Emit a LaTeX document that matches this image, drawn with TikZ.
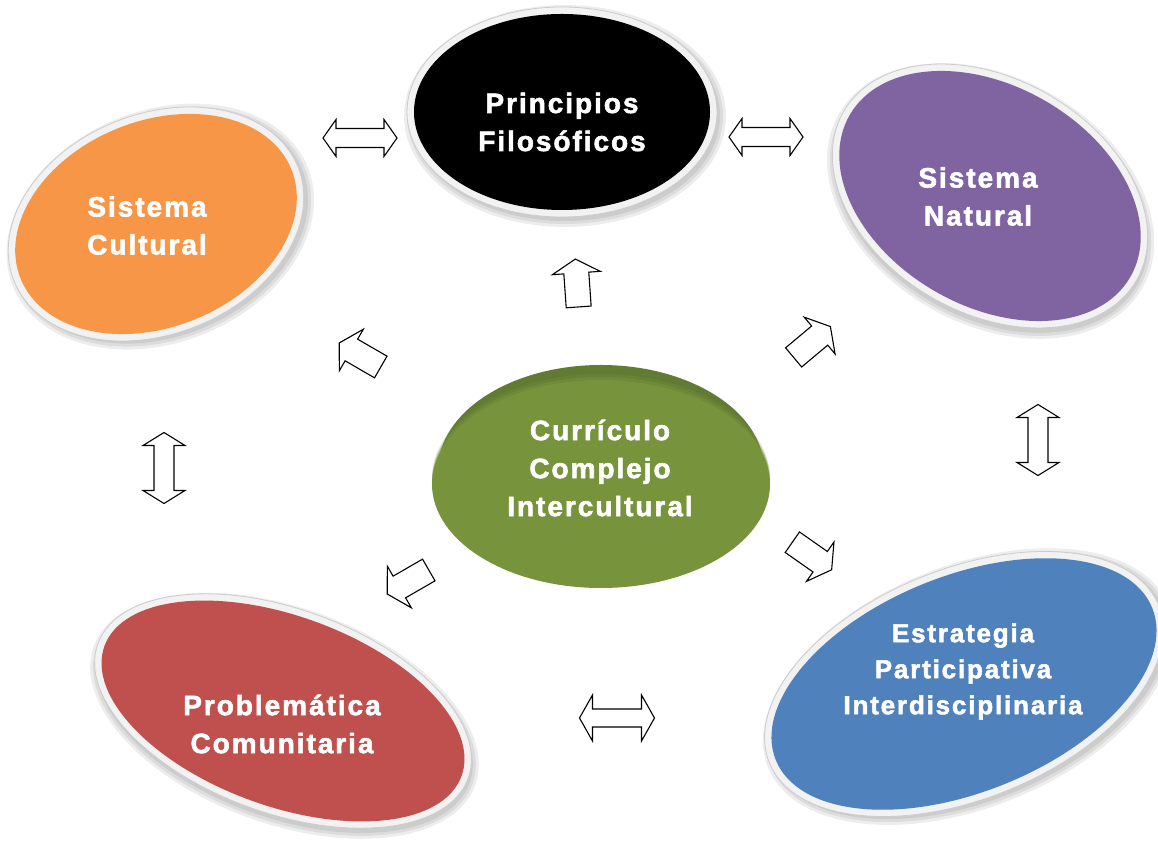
\documentclass[tikz,border=0pt]{standalone}
\usepackage{fontspec}
\newfontfamily\lblfont[LetterSpace=7, FakeBold=2]{Liberation Sans Bold}
\definecolor{cultural}{HTML}{F79646}
\definecolor{natural}{HTML}{8064A2}
\definecolor{problem}{HTML}{C0504D}
\definecolor{strategy}{HTML}{4F81BD}
\definecolor{core}{HTML}{77933C}
\definecolor{coredark}{HTML}{627B33}
\definecolor{ringfill}{HTML}{F2F2F2}

\tikzset{
  lbl/.style={text=white, align=center, inner sep=0pt,
    font=\lblfont\fontsize{28}{38}\selectfont},
  blockarrow/.style={draw=black, fill=white, line width=1.1pt, line join=miter},
  % double-headed block arrow: half length / head half-width / shaft half-width
  pics/dblarrow/.style args={#1/#2/#3}{code={
    \draw[blockarrow] (-#1,0) -- (-#1+13,#2) -- (-#1+13,#3) -- (#1-13,#3)
      -- (#1-13,#2) -- (#1,0) -- (#1-13,-#2) -- (#1-13,-#3)
      -- (-#1+13,-#3) -- (-#1+13,-#2) -- cycle;}},
  % single block arrow pointing along +x
  pics/onearrow/.style={code={
    \draw[blockarrow] (-24,-12.5) -- (10,-12.5) -- (10,-24) -- (24,0)
      -- (10,24) -- (10,12.5) -- (-24,12.5) -- cycle;}},
}

% bubble: centre x, centre y, x radius, y radius, angle, colour
\newcommand\bubble[6]{%
  \begin{scope}[shift={(#1,#2)}, rotate=#5]
    \foreach \s in {13,10,7}{
      \fill[black, opacity=0.07] (3,-4) ellipse [x radius=#3+\s, y radius=#4+\s];}
    \fill[ringfill] (0,0) ellipse [x radius=#3+7, y radius=#4+7];
    \draw[gray!40, line width=0.8pt] (0,0) ellipse [x radius=#3+7, y radius=#4+7];
    \fill[#6] (0,0) ellipse [x radius=#3, y radius=#4];
  \end{scope}}

\begin{document}
\begin{tikzpicture}[x=1pt, y=1pt]
  \fill[white] (0,0) rectangle (1158,840);
  \useasboundingbox (0,0) rectangle (1158,840);

  % outer bubbles
  \bubble{156}{616}{146}{103}{22}{cultural}
  \bubble{562}{728}{148}{98}{0}{black}
  \bubble{990}{644}{162}{110}{-30}{natural}
  \bubble{283}{129}{190}{95}{-20}{problem}
  \bubble{964}{156}{203}{108}{22}{strategy}

  % central disc with a darker rim along its top
  \begin{scope}[shift={(601,370)}]
    \fill[coredark] (0,0) ellipse [x radius=163, y radius=105];
    \foreach \s/\o in {6/0.25,3/0.5}{
      \fill[core, opacity=\o] (0,-14+\s) ellipse [x radius=169, y radius=104];}
    \fill[core] (0,-14) ellipse [x radius=169, y radius=104];
  \end{scope}

  % labels
  \node[lbl] (prin)  at (562,718)   {Principios\\Filosóficos};
  \node[lbl] (cult)  at (147,614.5) {Sistema\\Cultural};
  \node[lbl] (nat)   at (978,643.5) {Sistema\\Natural};
  \node[lbl] (core)  at (600,372)   {Currículo\\Complejo\\Intercultural};
  \node[lbl] (prob)  at (282,116)   {Problemática\\Comunitaria};
  \node[lbl, font=\lblfont\fontsize{26}{36}\selectfont]
             (strat) at (963,168.5) {Estrategia\\Participativa\\Interdisciplinaria};

  % double arrows between neighbouring bubbles
  \pic (cultprin) at (360,702) {dblarrow=37/18.5/9.5};
  \pic (prinnat)  at (766,703) {dblarrow=37/18.5/9.5};
  \pic[rotate=90] (cultprob) at (164,372) {dblarrow=35.5/21/10};
  \pic[rotate=90] (natstrat) at (1038,400) {dblarrow=35.5/21/10};
  \pic (probstrat) at (617,122) {dblarrow=37.5/23/9};

  % arrows leaving the central disc
  \pic[rotate=94]  (toprin)  at (577,557) {onearrow};
  \pic[rotate=150] (tocult)  at (360,485) {onearrow};
  \pic[rotate=40]  (tonat)   at (812,498) {onearrow};
  \pic[rotate=-35] (tostrat) at (812,284) {onearrow};
  \pic[rotate=210] (toprob)  at (408,258) {onearrow};
\end{tikzpicture}
\end{document}
